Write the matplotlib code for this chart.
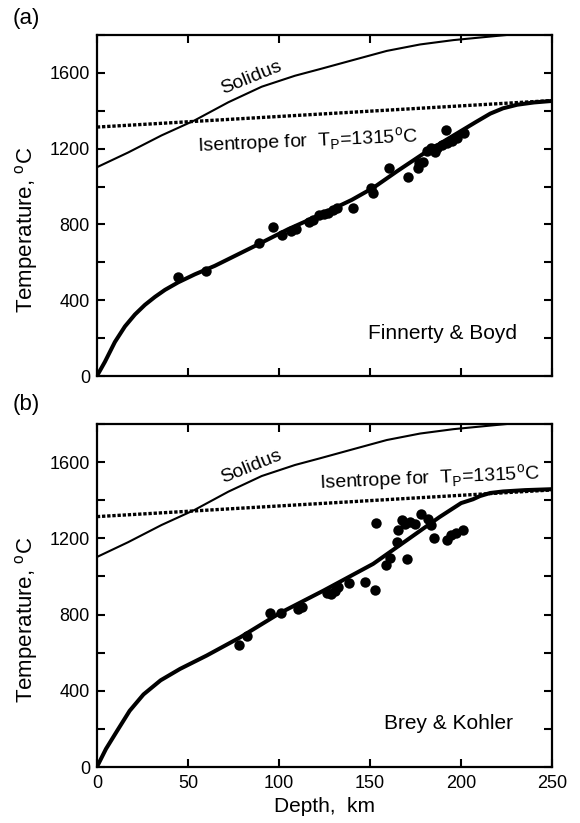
import matplotlib
matplotlib.use("Agg")
import matplotlib.pyplot as plt
from matplotlib.ticker import MultipleLocator

plt.rcParams["font.family"] = ["Liberation Sans", "DejaVu Sans"]
plt.rcParams["mathtext.fontset"] = "custom"
plt.rcParams["mathtext.rm"] = "Liberation Sans"

# -----------------------------
# Data
# -----------------------------
# panel (a): Finnerty & Boyd xenoliths
fb_depth = [44.3, 59.9, 89.2, 96.9, 101.5, 106.6, 109.5, 116.3, 118.7, 121.8,
            124.5, 126.7, 129.7, 131.9, 140.5, 150.7, 151.5, 160.3, 170.9, 176.4,
            176.7, 179.1, 181.3, 183.2, 185.9, 186.8, 189.6, 191.9, 192.3, 195.1,
            197.5, 201.8]
fb_temp = [521, 556, 704, 785, 744, 765, 778, 815, 823, 850,
           855, 862, 876, 885, 885, 991, 968, 1096, 1049, 1096,
           1126, 1131, 1188, 1205, 1184, 1202, 1219, 1298, 1228, 1242,
           1254, 1284]

# panel (b): Brey & Kohler xenoliths
bk_depth = [78.0, 82.2, 95.0, 101.1, 110.6, 112.8, 126.6, 128.8, 130.7, 132.5,
            138.3, 147.1, 152.6, 153.0, 159.0, 160.8, 164.8, 165.4, 167.6, 169.0,
            170.5, 171.8, 174.5, 178.2, 181.8, 183.6, 185.1, 192.4, 194.6, 197.4,
            201.0]
bk_temp = [641, 688, 808, 808, 829, 838, 911, 908, 925, 947,
           964, 973, 929, 1280, 1062, 1098, 1180, 1242, 1294, 1273,
           1092, 1286, 1277, 1329, 1303, 1268, 1203, 1189, 1215, 1227,
           1245]

# fitted geotherms
geo_a_depth = [0, 4.4, 9.9, 15.4, 20.9, 26.4, 31.9, 37.4, 44.7, 53.8, 64.8,
               87.9, 105, 124.5, 140, 152, 165, 179.5, 197.8, 208, 216, 223,
               230.8, 240, 250]
geo_a_temp = [0, 75, 180, 262, 325, 376, 418, 455, 495, 537, 582,
              692, 775, 859, 930, 995, 1082, 1175, 1281, 1340, 1385, 1413,
              1432, 1444, 1452]

geo_b_depth = [0, 5, 11, 18, 25.6, 35, 45.7, 60.3, 78.6, 100.5, 124.3, 151.7,
               170, 188.2, 200, 206.5, 210.4, 216, 223, 235, 250]
geo_b_temp = [0, 95, 188, 295, 381, 455, 515, 585, 680, 808, 925, 1066,
              1189, 1312, 1385, 1405, 1422, 1438, 1446, 1453, 1458]

# solidus and isentrope (same in both panels)
sol_depth = [0, 17.2, 35.5, 53.8, 72.2, 90.5, 108.8, 122.5, 140.8, 159.2,
             177.5, 195.8, 214.1, 225, 250]
sol_temp = [1102, 1180, 1270, 1350, 1445, 1527, 1585, 1620, 1668, 1716,
            1750, 1773, 1790, 1800, 1820]

isen_depth = [0, 250]
isen_temp = [1314, 1454]


def draw_panel(ax, d, t, gd, gt, name, name_xy, isen_xy):
    ax.plot(sol_depth, sol_temp, color="black", lw=1.5)
    ax.plot(isen_depth, isen_temp, color="black", lw=2.4, linestyle=(0, (1.0, 0.55)))
    ax.plot(gd, gt, color="black", lw=2.9, solid_capstyle="round")
    ax.plot(d, t, "o", color="black", ms=7.5, mew=0)
    ax.set_xlim(0, 250)
    ax.set_ylim(0, 1800)
    ax.xaxis.set_major_locator(MultipleLocator(50))
    ax.yaxis.set_major_locator(MultipleLocator(400))
    ax.yaxis.set_minor_locator(MultipleLocator(200))
    ax.tick_params(which="both", direction="in", top=True, right=True,
                   labelsize=13, width=1.5, length=6, pad=5)
    ax.tick_params(axis="x", pad=6)
    for s in ax.spines.values():
        s.set_linewidth(1.6)
    ax.set_ylabel(r"Temperature, $^\mathrm{o}$C", fontsize=16)
    ax.yaxis.set_label_coords(-0.125, 0.43)
    ax.text(85, 1573, "Solidus", fontsize=14, rotation=22, ha="center", va="center")
    ax.text(isen_xy[0], isen_xy[1], r"Isentrope for  T$_\mathrm{P}$=1315$^\mathrm{o}$C",
            fontsize=14, ha="left", va="baseline", rotation=2.5)
    ax.text(name_xy[0], name_xy[1], name, fontsize=15, ha="right", va="center")


fig = plt.figure(figsize=(5.8, 8.23), dpi=100)
ax1 = fig.add_axes([0.167, 0.543, 0.785, 0.4145])
ax2 = fig.add_axes([0.167, 0.068, 0.785, 0.4168])

draw_panel(ax1, fb_depth, fb_temp, geo_a_depth, geo_a_temp,
           "Finnerty & Boyd", (230.8, 227), (55, 1182))
draw_panel(ax2, bk_depth, bk_temp, geo_b_depth, geo_b_temp,
           "Brey & Kohler", (228.6, 231), (122, 1458))

ax1.tick_params(labelbottom=False)
ax2.set_xlabel("Depth,  km", fontsize=15, labelpad=3)

fig.text(0.022, 0.977, "(a)", fontsize=16, ha="left", va="center")
fig.text(0.022, 0.508, "(b)", fontsize=16, ha="left", va="center")

fig.savefig("out.png", dpi=100)
